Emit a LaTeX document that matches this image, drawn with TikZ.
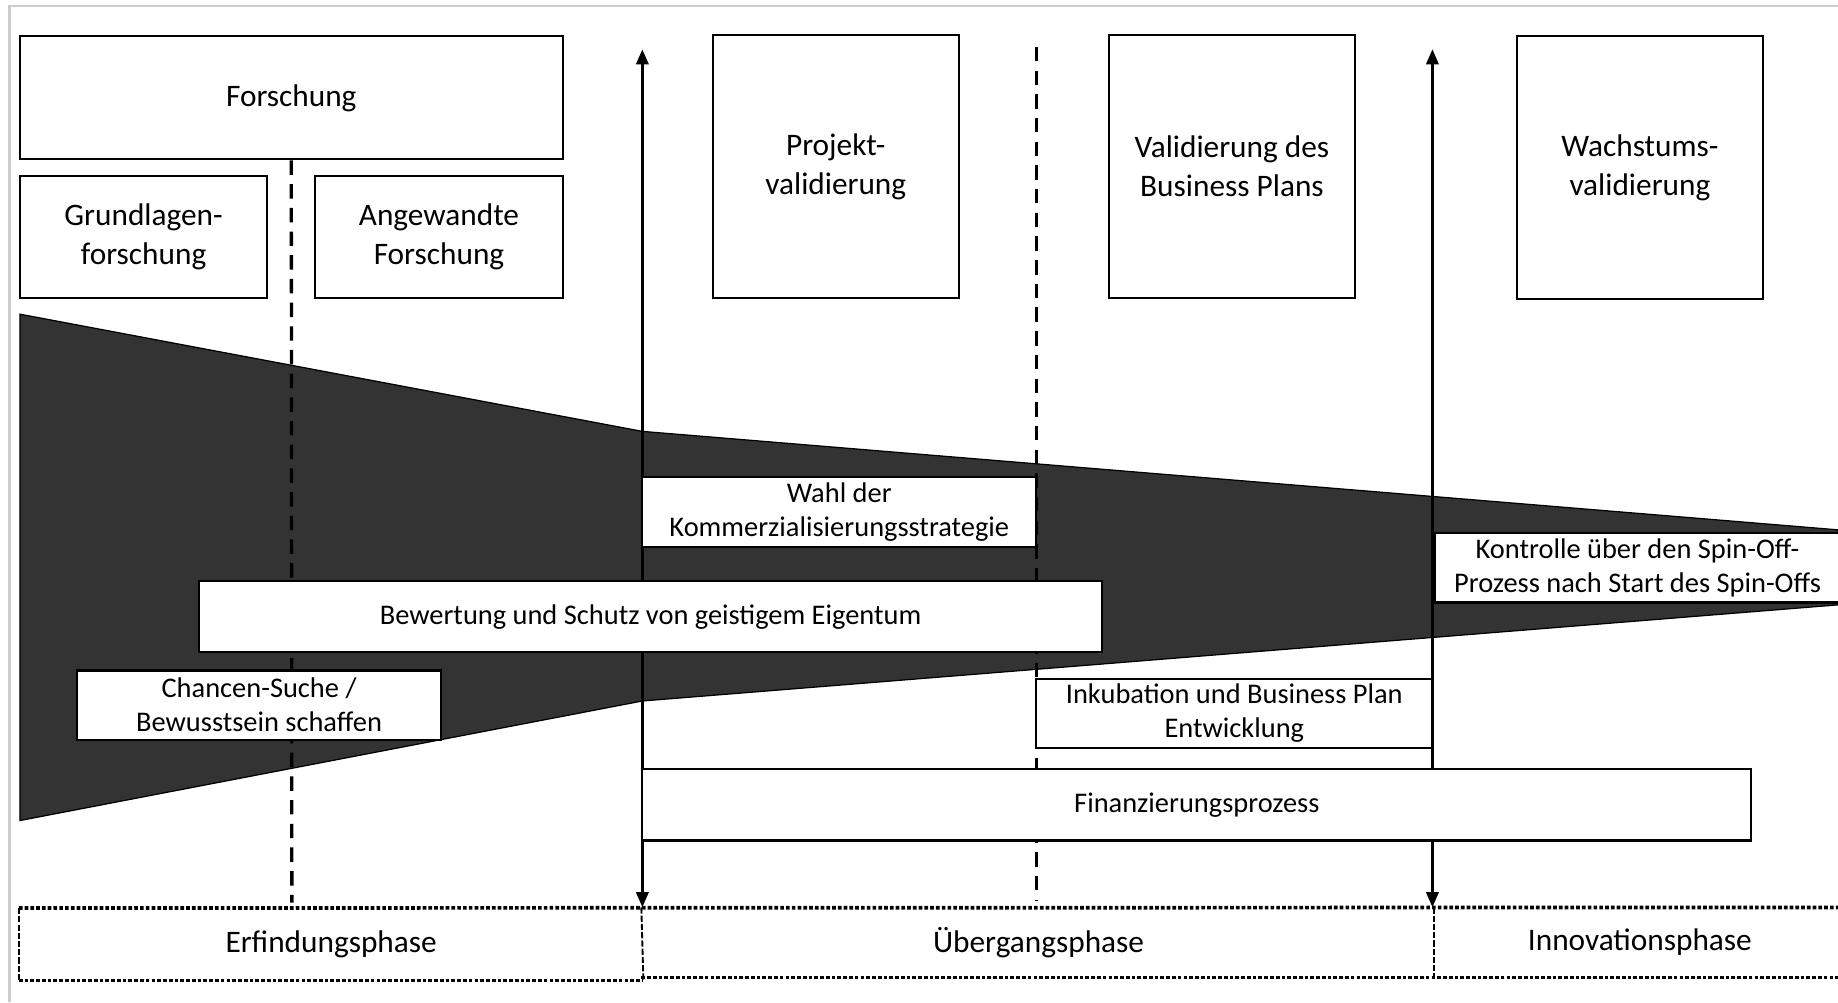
\documentclass[tikz,border=0pt]{standalone}
\usepackage{fontspec}
\setmainfont{Carlito}
\usetikzlibrary{arrows.meta}

\begin{document}
\begin{tikzpicture}[x=0.2mm, y=-0.2mm, line width=1pt,
  main/.style = {draw, fill=white, align=center, inner sep=0pt, font=\fontsize{15.2}{18.8}\selectfont},
  task/.style = {draw, fill=white, align=center, inner sep=0pt, font=\fontsize{13.8}{16.5}\selectfont},
  phase/.style = {align=center, inner sep=0pt, minimum height=12mm, font=\fontsize{15.2}{18.8}\selectfont},
  dotline/.style = {densely dotted, line width=1.8pt},
  phaseedge/.style = {dash pattern=on 3pt off 1pt, line width=0.9pt},
  divider/.style = {dash pattern=on 7pt off 4.5pt, line width=1.6pt},
  gatearrow/.style = {<->, >={Triangle[length=2.6mm, width=2.1mm]}, line width=1.4pt}]
  \useasboundingbox (0,0) rectangle (1568,855);
  \clip (0,0) rectangle (1568,855);
  \draw[black!20, line width=1.2pt] (8,855) -- (8,5) -- (1568,5);

  \node[main, minimum width=92.6mm, minimum height=21mm] (fo) at (248.5,83.5) {Forschung};
  \node[main, minimum width=42.2mm, minimum height=20.8mm] (gl) at (122.5,202) {Grundlagen-\\forschung};
  \node[main, minimum width=42.2mm, minimum height=20.8mm] (af) at (374.5,202) {Angewandte\\Forschung};
  \node[main, minimum width=42mm, minimum height=44.8mm] (pv) at (713,142) {Projekt-\\validierung};
  \node[main, minimum width=42mm, minimum height=44.8mm] (vb) at (1051,142) {Validierung des\\Business Plans};
  \node[main, minimum width=42mm, minimum height=44.8mm] (wv) at (1399,143) {Wachstums-\\validierung};

  \fill[black!80, draw=black, line width=0.6pt] (17,268) -- (548,368) -- (1568,452) -- (1568,516) -- (548,598) -- (17,700) -- cycle;

  \coordinate (d1e) at (249,770);
  \coordinate (d2s) at (884,40);
  \coordinate (d2e) at (884,768);
  \coordinate (a1s) at (548,42);
  \coordinate (a1e) at (548,774);
  \coordinate (a2s) at (1222,42);
  \coordinate (a2e) at (1222,774);
  \draw[divider] (fo.south) -- (d1e);
  \draw[divider] (d2s) -- (d2e);
  \draw[gatearrow] (a1s) -- (a1e);
  \draw[gatearrow] (a2s) -- (a2e);

  \node[task, minimum width=67.2mm, minimum height=12mm] (wk) at (716,437) {Wahl der\\Kommerzialisierungsstrategie};
  \node[task, minimum width=154mm, minimum height=12mm] (bs) at (555,526) {Bewertung und Schutz von geistigem Eigentum};
  \node[task, minimum width=62mm, minimum height=11.8mm] (cs) at (221,601.5) {Chancen-Suche /\\Bewusstsein schaffen};
  \node[task, minimum width=69.2mm, minimum height=11.8mm] (ks) at (1397,484.5) {Kontrolle über den Spin-Off-\\Prozess nach Start des Spin-Offs};
  \node[task, minimum width=67.6mm, minimum height=11.8mm] (ib) at (1053,608.5) {Inkubation und Business Plan\\Entwicklung};
  \node[task, minimum width=189.2mm, minimum height=12.2mm] (fp) at (1021,686.5) {Finanzierungsprozess};

  \node[phase, minimum width=106.2mm] (ep) at (282.5,805.5) {Erfindungsphase};
  \node[phase, minimum width=135.2mm, minimum height=11.6mm] (up) at (886,804) {Übergangsphase};
  \node[phase, minimum width=70mm, minimum height=11.6mm] (ip) at (1399,804) {Innovationsphase};
  \draw[dotline] (ep.north west) -- (ip.north east);
  \draw[dotline] (ep.south west) -- (ep.south east);
  \draw[dotline] (up.south west) -- (ip.south east);
  \draw[phaseedge] (ep.north west) -- (ep.south west);
  \draw[phaseedge] (up.north west) -- (ep.south east);
  \draw[phaseedge] (ip.north west) -- (ip.south west);

\end{tikzpicture}
\end{document}
